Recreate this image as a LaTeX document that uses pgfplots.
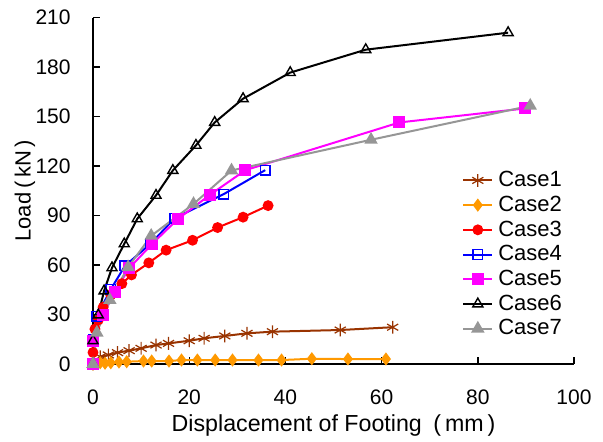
\documentclass[border=0pt]{standalone}
\usepackage{pgfplots}
\pgfplotsset{compat=1.18}
\usepackage{fontspec}
\setmainfont{Liberation Sans}
\definecolor{cbrown}{HTML}{993300}
\definecolor{corange}{HTML}{FF9900}
\definecolor{cgray}{HTML}{969696}
\definecolor{cmag}{HTML}{FF00FF}
\definecolor{cblue}{HTML}{0000FF}
\definecolor{cred}{HTML}{FF0000}
\begin{document}
\begin{tikzpicture}
\begin{axis}[
  name=ax,
  scale only axis,
  width=240.5pt, height=173.25pt,
  xmin=0, xmax=100, ymin=0, ymax=210,
  xtick={0,20,...,100}, ytick={0,30,...,210},
  axis lines*=left,
  axis line style={line width=0.7pt, black},
  tick style={line width=0.7pt, black},
  major tick length=3.5pt,
  tick align=inside,
  /pgf/number format/assume math mode=true,
  ticklabel style={font=\fontsize{10.5}{12}\selectfont},
  xticklabel style={anchor=center, inner sep=0pt, yshift=-16.5pt},
  yticklabel style={anchor=east, inner sep=0pt, xshift=-11pt},
  xlabel={Displacement of Footing\enspace(\,mm\,)},
  ylabel={Load\,(\,kN\,)},
  label style={font=\fontsize{11}{13}\selectfont},
  xlabel style={at={(axis description cs:0.5,0)}, anchor=center, yshift=-30.5pt, font=\fontsize{11.6}{13}\selectfont},
  ylabel style={at={(axis description cs:-0.1414,0.5)}, anchor=center},
  legend style={draw=none, fill=none, inner sep=0pt, column sep=2.5pt,
    at={(axis description cs:0.767,0.5666)}, anchor=north west,
    font=\fontsize{11}{13}\selectfont,
    nodes={inner sep=0pt, minimum height=12.35pt}},
  legend cell align=left,
  legend image code/.code={\draw[mark repeat=2,mark phase=2,#1] plot coordinates {(0pt,0pt) (7.25pt,0pt) (14.5pt,0pt)};},
  every axis plot/.append style={line width=1pt},
]
% Case1
\addplot[cbrown, mark=asterisk, mark size=3.2pt, mark options={line width=0.6pt}] coordinates {
(0,0) (1.5,4.4) (3.2,5.5) (5.1,6.9) (7.5,8.1) (10,9.5) (13.1,11.5) (15.7,12.5)
(20,14.1) (23.1,15.6) (27.4,17) (32,18.6) (37.3,19.6) (51.4,20.6) (62.3,22.3)};
\addlegendentry{Case1}
% Case2
\addplot[corange, mark=diamond*, mark size=2.5pt] coordinates {
(0,0) (1.5,0.8) (2.5,0.5) (3.7,0.8) (5.4,1.2) (7,1.4) (10.5,1.8) (12.2,1.8)
(15.8,1.8) (18.4,2.4) (21.7,2.4) (25.4,2.4) (29,2.4) (34.4,2.4) (39.2,2.4)
(45.5,3.2) (53,3) (60.9,3)};
\addlegendentry{Case2}
% Case3
\addplot[cred, mark=*, mark size=2.2pt] coordinates {
(0,0) (0,7) (0.4,21.2) (1.1,26.7) (2.1,34.4) (3.7,41.9) (6,48.7) (8,54)
(11.6,61.3) (15.2,69) (20.7,75) (25.9,82.7) (31.2,89) (36.4,96)};
\addlegendentry{Case3}
% Case4
\addplot[cblue, mark=square, mark size=2.4pt, mark options={line width=0.7pt}] coordinates {
(0,0) (0,15) (0.8,29) (3.7,45.3) (6.65,59.5) (12,73) (17,88.4) (27.2,103) (35.8,117.5)};
\addlegendentry{Case4}
% Case5
\addplot[cmag, mark=square*, mark size=2.5pt] coordinates {
(0,0) (0,14) (2.1,29.7) (4.5,43.5) (7.5,58) (12.3,72.8) (17.7,88) (24.3,102.5)
(31.7,117.5) (63.7,146.4) (89.9,154.9)};
\addlegendentry{Case5}
% Case6
\addplot[black, mark=triangle, mark size=2.9pt, mark options={line width=0.7pt}] coordinates {
(0,0) (0,14.1) (1.1,29.7) (2.3,44.3) (3.95,58.3) (6.5,72.8) (9.2,88) (13.1,102.2)
(16.6,117.3) (21.4,132.5) (25.3,146.4) (31.2,160.8) (41,176.6) (56.7,190.5) (86.3,200.8)};
\addlegendentry{Case6}
% Case7
\addplot[cgray, mark=triangle*, mark size=2.9pt] coordinates {
(0,0) (0.8,19) (3.5,38.8) (7.3,58.7) (12.1,77.7) (20.9,97) (28.8,117.3)
(57.8,135.9) (90.9,156.5)};
\addlegendentry{Case7}
\end{axis}
\pgfresetboundingbox
\path (ax.south west) ++(-46.5pt,-38.5pt) rectangle ++(301.5pt,220.5pt);
\end{tikzpicture}
\end{document}
